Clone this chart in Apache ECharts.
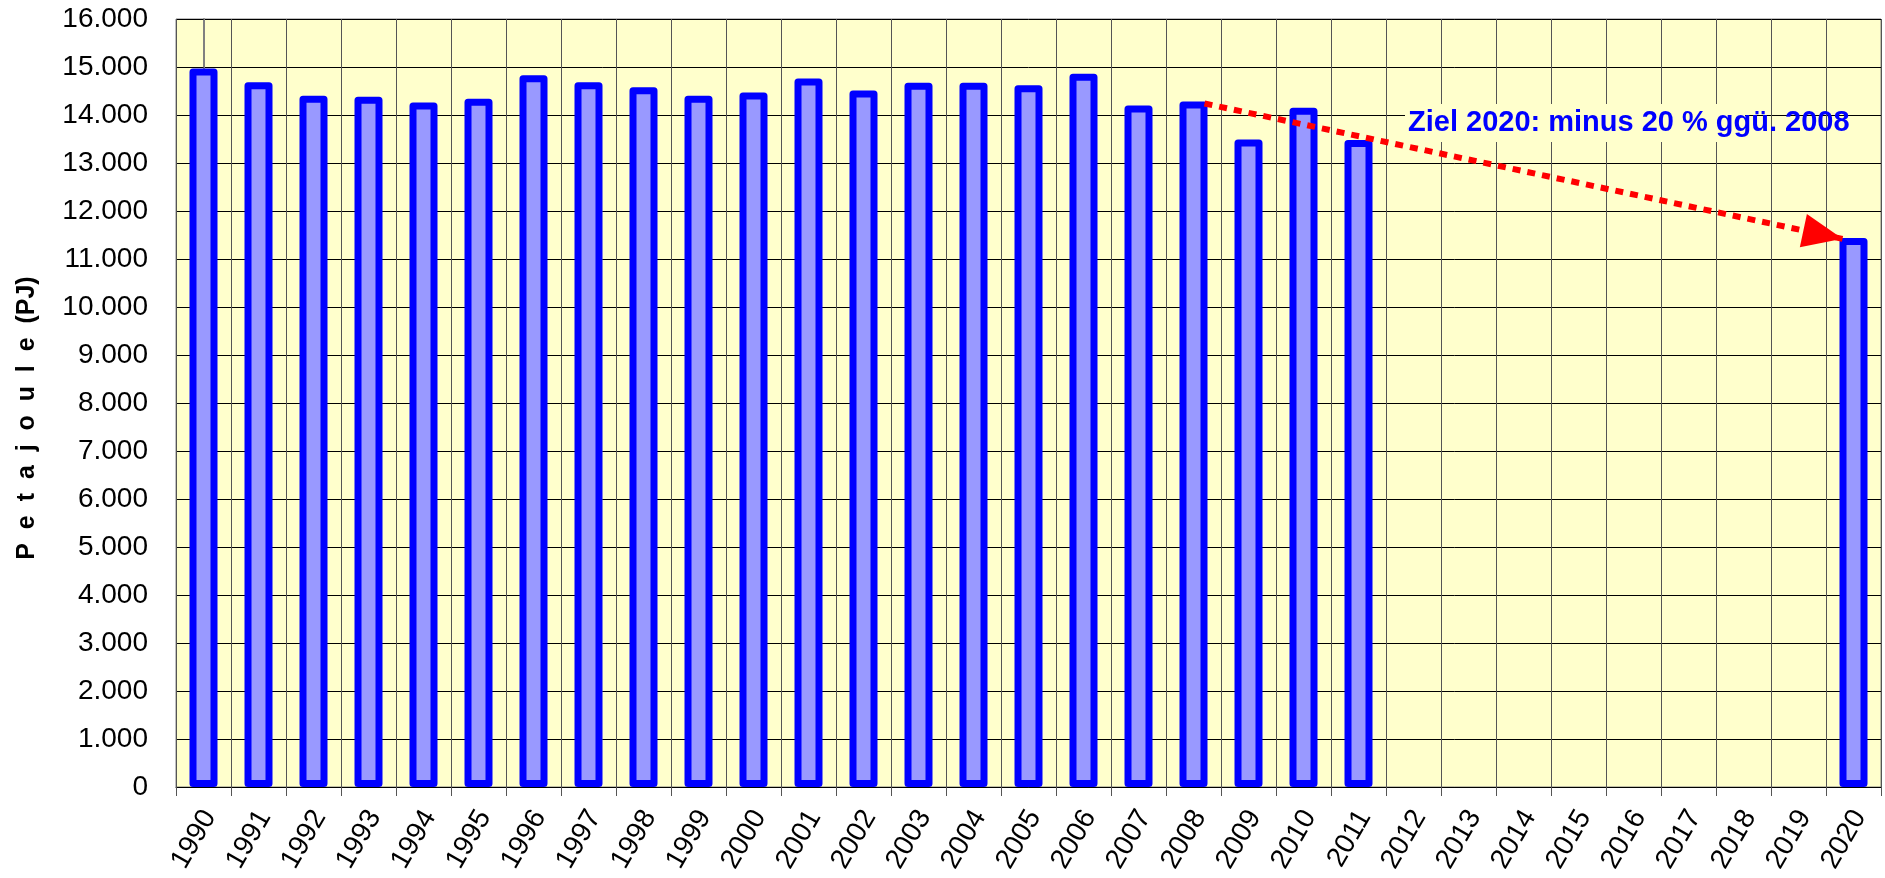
<!DOCTYPE html>
<html>
<head>
<meta charset="utf-8">
<script src="https://cdn.jsdelivr.net/npm/echarts@6/dist/echarts.min.js"></script>
<style>
    html, body { margin: 0; padding: 0; background: #ffffff; }
    #chart { width: 1885px; height: 878px; }
</style>
</head>
<body>
<div id="chart"></div>
<script>
// Jahre und Primaerenergieverbrauch (PJ)
const years = ['1990', '1991', '1992', '1993', '1994', '1995', '1996', '1997', '1998', '1999',
    '2000', '2001', '2002', '2003', '2004', '2005', '2006', '2007', '2008', '2009',
    '2010', '2011', '2012', '2013', '2014', '2015', '2016', '2017', '2018', '2019', '2020']
const energy = [14970, 14680, 14400, 14380, 14260, 14340, 14830, 14680, 14580, 14400,
    14470, 14760, 14510, 14670, 14670, 14620, 14860, 14200, 14280, 13490,
    14150, 13480, '-', '-', '-', '-', '-', '-', '-', '-', 11440]

const yMin = 0
const yMax = 16000
const yStep = 1000
const yName = 'P  e  t  a  j  o  u  l  e  (PJ)'

// Zielpfeil 2008 -> 2020 (x als Kategorie-Index)
const arrowFrom = [18.2, 14240]
const arrowTo = [29.8, 11420]
const note = 'Ziel 2020: minus 20 % ggü. 2008'

const font = '"Liberation Sans", Arial, sans-serif'

const chart = echarts.init(document.getElementById('chart'))

chart.setOption({
    animation: false,
    textStyle: { fontFamily: font },
    grid: {
        left: 176,
        right: 4,
        top: 19,
        bottom: 91,
        outerBoundsMode: 'none',
        containLabel: false,
        show: true,
        backgroundColor: '#FFFFCC',
        borderColor: '#808080',
        borderWidth: 1,
    },
    xAxis: [{
        type: 'category',
        data: years,
        boundaryGap: true,
        axisLine: { lineStyle: { color: '#000000', width: 1 } },
        axisTick: { show: true, length: 9, lineStyle: { color: '#555555' } },
        axisLabel: {
            interval: 0,
            rotate: 60,
            fontSize: 28,
            lineHeight: 14,
            color: '#000000',
            margin: 22,
            verticalAlign: 'top',
        },
        splitLine: { show: true, lineStyle: { color: '#555555', width: 1 } },
    }, {
        type: 'value',
        min: -0.5,
        max: 30.5,
        show: false,
    }],
    yAxis: {
        type: 'value',
        min: yMin,
        max: yMax,
        interval: yStep,
        name: yName,
        nameLocation: 'middle',
        nameGap: 136,
        nameTextStyle: { fontWeight: 'bold', fontSize: 25, color: '#000000', padding: [0, 30, 0, 0] },
        axisLine: { show: true, lineStyle: { color: '#808080', width: 2 } },
        axisTick: { show: true, length: 9, lineStyle: { color: '#000000' } },
        axisLabel: {
            fontSize: 28,
            color: '#000000',
            margin: 28,
            formatter: v => v === 0 ? '0' : (v / 1000) + '.000',
        },
        splitLine: { show: true, lineStyle: { color: '#000000', width: 1 } },
    },
    series: [{
        name: 'PEV',
        type: 'bar',
        data: energy,
        barWidth: 28,
        clip: false,
        itemStyle: {
            color: '#9999FF',
            borderColor: '#0000FF',
            borderWidth: 7,
            borderJoin: 'round',
        },
    }, {
        type: 'line',
        xAxisIndex: 1,
        data: [],
        silent: true,
        markLine: {
            silent: true,
            animation: false,
            symbol: ['none', 'triangle'],
            symbolSize: [34, 40],
            symbolOffset: [[0, 0], [0, 20]],
            label: { show: false },
            lineStyle: { color: '#FF0000', width: 6, type: [8, 7], cap: 'butt' },
            itemStyle: { color: '#FF0000' },
            data: [[{ coord: arrowFrom }, { coord: arrowTo }]],
        },
    }],
    graphic: [{
        type: 'rect',
        shape: { x: 1405, y: 104, width: 340, height: 38 },
        style: { fill: '#FFFFCC' },
        z: 1,
    }, {
        type: 'text',
        left: 1408,
        top: 108,
        style: {
            text: note,
            font: 'bold 29px ' + font,
            fill: '#0000FF',
        },
        z: 10,
    }],
})
</script>
</body>
</html>
